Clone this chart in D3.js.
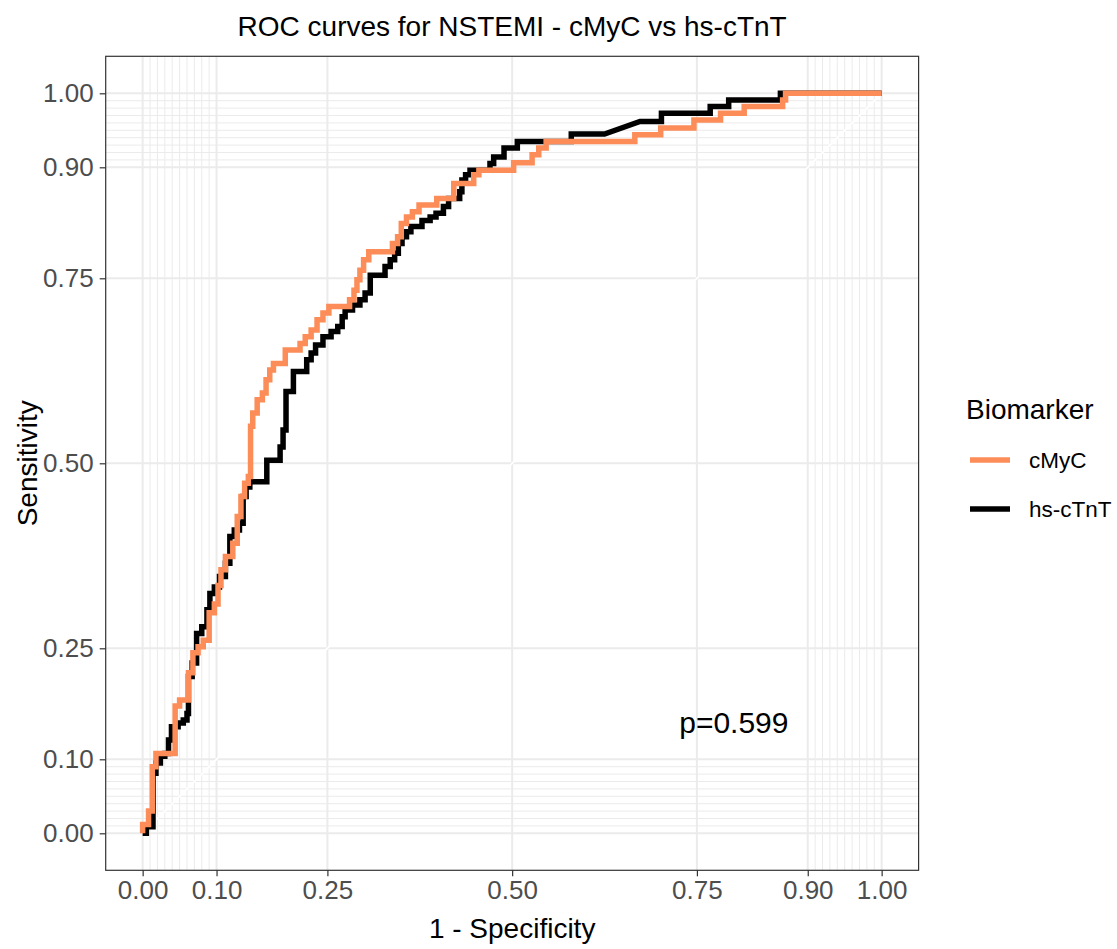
<!DOCTYPE html>
<html><head><meta charset="utf-8">
<script src="https://cdn.jsdelivr.net/npm/d3@7"></script>
<style>body{margin:0;background:#fff;} text{font-family:"Liberation Sans",Arial,Helvetica,sans-serif;}</style>
</head><body><svg id="chart" width="1117" height="949"></svg>
<script>
// ---------- data ----------
const seriesNames = ["cMyC", "hs-cTnT"];
const seriesColors = ["#FC8D59", "#000000"];
// ROC vertices [1 - specificity, sensitivity]
const cmycRoc = [[0,0],[0,0.012],[0.008,0.012],[0.008,0.03],[0.013,0.03],[0.013,0.09],[0.018,0.09],[0.018,0.108],[0.044,0.108],[0.044,0.172],[0.05,0.172],[0.05,0.18],[0.062,0.18],[0.062,0.217],[0.068,0.217],[0.068,0.244],[0.075,0.244],[0.075,0.252],[0.082,0.252],[0.082,0.261],[0.09,0.261],[0.09,0.298],[0.097,0.298],[0.097,0.31],[0.102,0.31],[0.102,0.335],[0.106,0.335],[0.106,0.356],[0.112,0.356],[0.112,0.374],[0.122,0.374],[0.122,0.392],[0.128,0.392],[0.128,0.428],[0.133,0.428],[0.133,0.455],[0.138,0.455],[0.138,0.473],[0.143,0.473],[0.143,0.482],[0.146,0.482],[0.146,0.55],[0.149,0.55],[0.149,0.568],[0.155,0.568],[0.155,0.586],[0.162,0.586],[0.162,0.595],[0.167,0.595],[0.167,0.613],[0.172,0.613],[0.172,0.626],[0.177,0.626],[0.177,0.635],[0.193,0.635],[0.193,0.653],[0.213,0.653],[0.213,0.662],[0.22,0.662],[0.22,0.671],[0.228,0.671],[0.228,0.68],[0.236,0.68],[0.236,0.694],[0.244,0.694],[0.244,0.703],[0.252,0.703],[0.252,0.712],[0.28,0.712],[0.28,0.721],[0.286,0.721],[0.286,0.734],[0.29,0.734],[0.29,0.748],[0.294,0.748],[0.294,0.761],[0.299,0.761],[0.299,0.775],[0.306,0.775],[0.306,0.786],[0.338,0.786],[0.338,0.797],[0.345,0.797],[0.345,0.806],[0.35,0.806],[0.35,0.824],[0.357,0.824],[0.357,0.833],[0.365,0.833],[0.365,0.84],[0.374,0.84],[0.374,0.849],[0.398,0.849],[0.398,0.858],[0.421,0.858],[0.421,0.878],[0.448,0.878],[0.448,0.89],[0.455,0.89],[0.455,0.896],[0.502,0.896],[0.502,0.906],[0.527,0.906],[0.527,0.917],[0.536,0.917],[0.536,0.926],[0.546,0.926],[0.546,0.935],[0.666,0.935],[0.666,0.944],[0.701,0.944],[0.701,0.953],[0.746,0.953],[0.746,0.964],[0.782,0.964],[0.782,0.973],[0.814,0.973],[0.814,0.982],[0.866,0.982],[0.866,0.991],[0.87,0.991],[0.87,1],[1,1]];
const tntRoc = [[0,0],[0.005,0],[0.005,0.009],[0.014,0.009],[0.014,0.081],[0.018,0.081],[0.018,0.095],[0.024,0.095],[0.024,0.104],[0.03,0.104],[0.03,0.108],[0.035,0.108],[0.035,0.126],[0.039,0.126],[0.039,0.144],[0.048,0.144],[0.048,0.149],[0.055,0.149],[0.055,0.153],[0.06,0.153],[0.06,0.162],[0.062,0.162],[0.062,0.212],[0.067,0.212],[0.067,0.23],[0.073,0.23],[0.073,0.27],[0.08,0.27],[0.08,0.279],[0.087,0.279],[0.087,0.302],[0.091,0.302],[0.091,0.324],[0.097,0.324],[0.097,0.333],[0.104,0.333],[0.104,0.347],[0.112,0.347],[0.112,0.365],[0.118,0.365],[0.118,0.401],[0.124,0.401],[0.124,0.41],[0.131,0.41],[0.131,0.419],[0.136,0.419],[0.136,0.455],[0.14,0.455],[0.14,0.468],[0.145,0.468],[0.145,0.475],[0.168,0.475],[0.168,0.504],[0.186,0.504],[0.186,0.522],[0.19,0.522],[0.19,0.545],[0.194,0.545],[0.194,0.597],[0.204,0.597],[0.204,0.624],[0.222,0.624],[0.222,0.64],[0.228,0.64],[0.228,0.649],[0.234,0.649],[0.234,0.66],[0.244,0.66],[0.244,0.671],[0.255,0.671],[0.255,0.678],[0.264,0.678],[0.264,0.685],[0.27,0.685],[0.27,0.698],[0.274,0.698],[0.274,0.707],[0.284,0.707],[0.284,0.714],[0.294,0.714],[0.294,0.721],[0.301,0.721],[0.301,0.73],[0.308,0.73],[0.308,0.754],[0.328,0.754],[0.328,0.766],[0.335,0.766],[0.335,0.775],[0.341,0.775],[0.341,0.784],[0.346,0.784],[0.346,0.797],[0.351,0.797],[0.351,0.806],[0.357,0.806],[0.357,0.813],[0.363,0.813],[0.363,0.82],[0.378,0.82],[0.378,0.828],[0.389,0.828],[0.389,0.833],[0.397,0.833],[0.397,0.838],[0.407,0.838],[0.407,0.847],[0.414,0.847],[0.414,0.858],[0.429,0.858],[0.429,0.867],[0.432,0.867],[0.432,0.883],[0.437,0.883],[0.437,0.89],[0.443,0.89],[0.443,0.896],[0.47,0.896],[0.47,0.905],[0.475,0.905],[0.475,0.914],[0.489,0.914],[0.489,0.926],[0.507,0.926],[0.507,0.935],[0.58,0.935],[0.58,0.945],[0.625,0.945],[0.673,0.962],[0.702,0.962],[0.702,0.973],[0.768,0.973],[0.768,0.982],[0.793,0.982],[0.793,0.991],[0.863,0.991],[0.863,1],[1,1]];
const majorBreaks = [0, 0.1, 0.25, 0.5, 0.75, 0.9, 1];
const majorLabels = ["0.00", "0.10", "0.25", "0.50", "0.75", "0.90", "1.00"];
const minorBreaks = [0.01,0.02,0.03,0.04,0.05,0.06,0.07,0.08,0.09,0.91,0.92,0.93,0.94,0.95,0.96,0.97,0.98,0.99];
const titleText = "ROC curves for NSTEMI - cMyC vs hs-cTnT";
const xTitle = "1 - Specificity";
const yTitle = "Sensitivity";
const legendTitle = "Biomarker";
const pLabel = "p=0.599";
const pPos = [0.8, 0.15];

// ---------- layout ----------
const P = {left: 105.7, right: 918.6, top: 56.3, bottom: 870.3};
const svg = d3.select("#chart");
const x = d3.scaleLinear().domain([-0.05, 1.05]).range([P.left, P.right]);
const y = d3.scaleLinear().domain([-0.05, 1.05]).range([P.bottom, P.top]);

const grid = svg.append("g");
grid.selectAll(".vmin").data(minorBreaks).join("line")
  .attr("x1", d => x(d)).attr("x2", d => x(d)).attr("y1", P.top).attr("y2", P.bottom)
  .attr("stroke", "#EBEBEB").attr("stroke-width", 1);
grid.selectAll(".hmin").data(minorBreaks).join("line")
  .attr("y1", d => y(d)).attr("y2", d => y(d)).attr("x1", P.left).attr("x2", P.right)
  .attr("stroke", "#EBEBEB").attr("stroke-width", 1);
grid.selectAll(".vmaj").data(majorBreaks).join("line")
  .attr("x1", d => x(d)).attr("x2", d => x(d)).attr("y1", P.top).attr("y2", P.bottom)
  .attr("stroke", "#EBEBEB").attr("stroke-width", 2);
grid.selectAll(".hmaj").data(majorBreaks).join("line")
  .attr("y1", d => y(d)).attr("y2", d => y(d)).attr("x1", P.left).attr("x2", P.right)
  .attr("stroke", "#EBEBEB").attr("stroke-width", 2);

// reference diagonal
svg.append("line").attr("x1", x(0)).attr("y1", y(0)).attr("x2", x(1)).attr("y2", y(1))
  .attr("stroke", "#FFFFFF").attr("stroke-width", 1.8);

// curves (hs-cTnT under cMyC)
const line = d3.line().x(d => x(d[0])).y(d => y(d[1])).curve(d3.curveLinear);
const curves = [{name: seriesNames[1], data: tntRoc, color: seriesColors[1]},
                {name: seriesNames[0], data: cmycRoc, color: seriesColors[0]}];
svg.selectAll(".roc").data(curves).join("path")
  .attr("d", d => line(d.data)).attr("fill", "none")
  .attr("stroke", d => d.color).attr("stroke-width", 5.5).attr("stroke-linejoin", "miter");

// p-value
svg.append("text").attr("x", x(pPos[0])).attr("y", y(pPos[1])).attr("dy", "0.35em")
  .attr("text-anchor", "middle").attr("font-size", 30).attr("fill", "#000").text(pLabel);

// panel border
svg.append("rect").attr("x", P.left).attr("y", P.top)
  .attr("width", P.right - P.left).attr("height", P.bottom - P.top)
  .attr("fill", "none").attr("stroke", "#333333").attr("stroke-width", 1.2);

// axes
const xAxis = svg.append("g").attr("transform", `translate(0,${P.bottom})`)
  .call(d3.axisBottom(x).tickValues(majorBreaks).tickFormat((d, i) => majorLabels[i]).tickSize(6).tickPadding(4));
const yAxis = svg.append("g").attr("transform", `translate(${P.left},0)`)
  .call(d3.axisLeft(y).tickValues(majorBreaks).tickFormat((d, i) => majorLabels[i]).tickSize(6).tickPadding(6));
[xAxis, yAxis].forEach(a => {
  a.select(".domain").remove();
  a.selectAll(".tick line").attr("stroke", "#333333").attr("stroke-width", 1.2);
  a.selectAll(".tick text").attr("fill", "#4D4D4D").attr("font-size", 26)
    .attr("font-family", '"Liberation Sans",Arial,sans-serif');
});

// titles
svg.append("text").attr("x", (P.left + P.right) / 2).attr("y", 36)
  .attr("text-anchor", "middle").attr("font-size", 28).attr("fill", "#000").text(titleText);
svg.append("text").attr("x", (P.left + P.right) / 2).attr("y", 938)
  .attr("text-anchor", "middle").attr("font-size", 28).attr("fill", "#000").text(xTitle);
svg.append("text").attr("transform", `translate(37,${(P.top + P.bottom) / 2}) rotate(-90)`)
  .attr("text-anchor", "middle").attr("font-size", 28).attr("fill", "#000").text(yTitle);

// legend
const lg = svg.append("g");
lg.append("text").attr("x", 966).attr("y", 419).attr("font-size", 28).attr("fill", "#000").text(legendTitle);
const items = seriesNames.map((n, i) => ({name: n, color: seriesColors[i], cy: 460 + i * 49}));
lg.selectAll(".key").data(items).join("line")
  .attr("x1", 970).attr("x2", 1010).attr("y1", d => d.cy).attr("y2", d => d.cy)
  .attr("stroke", d => d.color).attr("stroke-width", 5.5);
lg.selectAll(".lab").data(items).join("text")
  .attr("x", 1029).attr("y", d => d.cy).attr("dy", "0.35em")
  .attr("font-size", 22.5).attr("fill", "#000").text(d => d.name);
</script></body></html>
